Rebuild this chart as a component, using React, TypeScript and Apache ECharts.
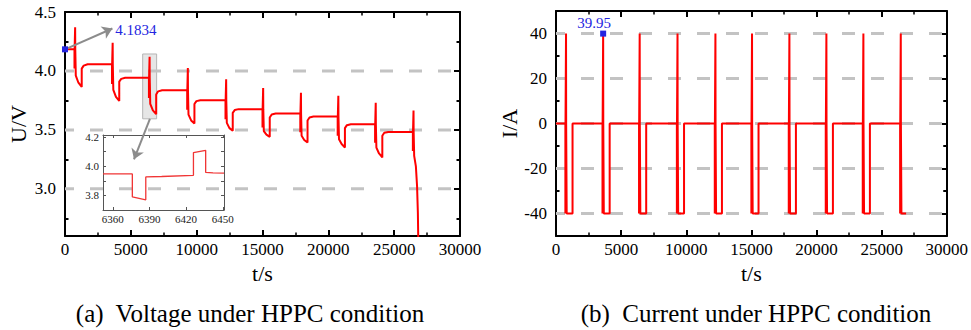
import React, { useEffect, useRef } from "react";
import * as echarts from "echarts";

const FONT = "Liberation Serif";
const BLUE = "#2424e0";
const RED = "#ff0000";

// ---------- axes ----------
const timeMin = 0;
const timeMax = 30000;
const timeStep = 5000;
const voltageMin = 2.6;
const voltageMax = 4.5;
const voltageTicks = [3.0, 3.5, 4.0, 4.5];
const voltageMinorTicks = [2.75, 3.25, 3.75, 4.25];
const voltageGrid = [3.0, 3.5, 4.0];
const currentMin = -50;
const currentMax = 50;
const currentTicks = [-40, -20, 0, 20, 40];
const currentMinorTicks = [-50, -30, -10, 10, 30, 50];
const currentGrid = [-40, -20, 0, 20, 40];
const insetTimeMin = 6352;
const insetTimeMax = 6451;
const insetTimeTicks = [6360, 6390, 6420, 6450];
const insetVoltageMin = 3.7;
const insetVoltageMax = 4.215;
const insetVoltageTicks = [3.8, 4.0, 4.2];
const insetVoltageAllTicks = [3.8, 3.9, 4.0, 4.1, 4.2];

// ---------- HPPC protocol (s after each pulse start) ----------
const dischargePulseEnd = 10;
const chargePulseStart = 50;
const chargePulseEnd = 60;
const stepStart = 100;
const stepMid = 300;
const stepEnd = 550;
const relaxMid = 700;
const relaxEnd = 1000;

// ---------- values ----------
const pulseStart = [720, 3570, 6375, 9280, 12190, 15000, 17870, 20710, 23550, 26420];
const restLevel = [4.1834, 4.057, 3.943, 3.836, 3.752, 3.676, 3.639, 3.613, 3.548, 3.483];
const pulseDip = [4.02, 3.89, 3.77, 3.67, 3.59, 3.52, 3.48, 3.45, 3.39, 3.32];
const chargePeak = [4.37, 4.24, 4.12, 4.025, 3.93, 3.855, 3.815, 3.79, 3.73, 3.665];
const stepStartV = [3.96, 3.84, 3.72, 3.63, 3.56, 3.49, 3.45, 3.42, 3.35];
const stepMidV = [3.9, 3.78, 3.665, 3.58, 3.515, 3.46, 3.415, 3.38, 3.3];
const stepEndV = [3.864, 3.746, 3.633, 3.554, 3.492, 3.441, 3.393, 3.351, 3.266];
const relaxJumpV = [4.02, 3.91, 3.8, 3.72, 3.645, 3.605, 3.58, 3.515, 3.45];
const relaxMidV = [4.045, 3.933, 3.827, 3.744, 3.668, 3.631, 3.605, 3.54, 3.476];
const finalStepTime = [26520, 26650, 26740, 26800, 26840];
const finalStepV = [3.28, 3.19, 3.02, 2.8, 2.5];

const chargeCurrent = 39.95;
const dischargeCurrent = -40;
const restCurrent = 0;

const insetTime = [6352, 6376, 6376, 6387, 6387, 6400, 6426, 6426, 6436, 6436, 6442, 6451];
const insetVoltage = [3.948, 3.948, 3.79, 3.77, 3.927, 3.93, 3.938, 4.094, 4.11, 3.958, 3.955, 3.953];

// ---------- build series data ----------
const voltageData: [number, number][] = [[timeMin, restLevel[0]]];
pulseStart.forEach((p, k) => {
  const o = restLevel[k];
  voltageData.push(
    [p, o],
    [p, pulseDip[k]],
    [p + dischargePulseEnd, pulseDip[k]],
    [p + dischargePulseEnd, o],
    [p + chargePulseStart, o],
    [p + chargePulseStart, chargePeak[k]],
    [p + chargePulseEnd, chargePeak[k]],
    [p + chargePulseEnd, o],
    [p + stepStart, o]
  );
  if (k < stepEndV.length) {
    voltageData.push(
      [p + stepStart, stepStartV[k]],
      [p + stepMid, stepMidV[k]],
      [p + stepEnd, stepEndV[k]],
      [p + stepEnd, relaxJumpV[k]],
      [p + relaxMid, relaxMidV[k]],
      [p + relaxEnd, restLevel[k + 1]]
    );
  } else {
    finalStepTime.forEach((t, i) => voltageData.push([t, finalStepV[i]]));
  }
});

const currentData: [number, number][] = [[timeMin, restCurrent]];
pulseStart.forEach((p, k) => {
  const last = k === pulseStart.length - 1;
  const end = last ? finalStepTime[finalStepTime.length - 1] + 40 : p + stepEnd;
  currentData.push(
    [p, restCurrent],
    [p, dischargeCurrent],
    [p + dischargePulseEnd, dischargeCurrent],
    [p + dischargePulseEnd, restCurrent],
    [p + chargePulseStart, restCurrent],
    [p + chargePulseStart, chargeCurrent],
    [p + chargePulseEnd, chargeCurrent],
    [p + chargePulseEnd, restCurrent],
    [p + stepStart, restCurrent],
    [p + stepStart, dischargeCurrent],
    [end, dischargeCurrent]
  );
  if (!last) currentData.push([end, restCurrent]);
});

const insetData = insetTime.map((t, i) => [t, insetVoltage[i]]);

// ---------- axis helpers ----------
const axisLineStyle = { color: "#000", width: 2 };
const plain = (v: number) => String(v);
const labelFont = { fontFamily: FONT, fontSize: 17, color: "#000" };
const nameFont = { fontFamily: FONT, fontSize: 22, color: "#000" };

function timeAxis(gridIndex: number, position: string, labels: boolean) {
  return {
    type: "value",
    gridIndex,
    position,
    min: timeMin,
    max: timeMax,
    interval: timeStep,
    axisLine: { show: true, onZero: false, lineStyle: axisLineStyle },
    axisTick: { show: true, inside: true, length: 6, lineStyle: { color: "#000", width: 2 } },
    minorTick: { show: true, splitNumber: 2, length: 3.5, lineStyle: { color: "#000", width: 1.5 } },
    axisLabel: {
      show: labels,
      formatter: plain,
      ...labelFont,
      margin: 5,
      showMinLabel: true,
      showMaxLabel: true,
    },
    splitLine: { show: false },
    name: labels ? "t/s" : "",
    nameLocation: "middle",
    nameGap: 14,
    nameTextStyle: { ...nameFont, verticalAlign: "top" },
  };
}

function valueAxis(opts: {
  gridIndex: number;
  position: string;
  min: number;
  max: number;
  ticks: number[];
  labels?: number[];
  line: boolean;
  tickLen: number;
  formatter?: (v: number) => string;
  name?: string;
  nameGap?: number;
}) {
  return {
    type: "value",
    gridIndex: opts.gridIndex,
    position: opts.position,
    min: opts.min,
    max: opts.max,
    axisLine: { show: opts.line, onZero: false, lineStyle: axisLineStyle },
    axisTick: {
      show: true,
      inside: true,
      length: opts.tickLen,
      customValues: opts.ticks,
      lineStyle: { color: "#000", width: 2 },
    },
    axisLabel: opts.labels
      ? {
          show: true,
          customValues: opts.labels,
          formatter: opts.formatter || plain,
          ...labelFont,
          margin: 9,
        }
      : { show: false },
    splitLine: { show: false },
    name: opts.name || "",
    nameLocation: "middle",
    nameGap: opts.nameGap || 0,
    nameTextStyle: nameFont,
  };
}

const insetAxisLine = { color: "#555", width: 1 };
const insetLabel = { fontFamily: FONT, fontSize: 11, color: "#222" };

function gridSeries(xIdx: number, yIdx: number, values: number[]) {
  return values.map((v) => ({
    type: "line",
    xAxisIndex: xIdx,
    yAxisIndex: yIdx,
    data: [
      [timeMin, v],
      [timeMax, v],
    ],
    symbol: "none",
    silent: true,
    z: 1,
    lineStyle: { color: "#c3c3c3", width: 3, type: [13, 16], dashOffset: 4 },
  }));
}

const option = {
  animation: false,
  backgroundColor: "#fff",
  textStyle: { fontFamily: FONT },
  grid: [
    { left: 65, top: 12, width: 395, height: 224 },
    { left: 103, top: 135, width: 121, height: 75 },
    { left: 556, top: 11, width: 396, height: 225 },
  ],
  xAxis: [
    timeAxis(0, "bottom", true),
    timeAxis(0, "top", false),
    {
      type: "value",
      gridIndex: 1,
      position: "bottom",
      min: insetTimeMin,
      max: insetTimeMax,
      axisLine: { show: true, onZero: false, lineStyle: insetAxisLine },
      axisTick: { show: true, inside: true, length: 3, customValues: insetTimeTicks, lineStyle: insetAxisLine },
      axisLabel: { show: true, customValues: insetTimeTicks, formatter: plain, ...insetLabel, margin: 3 },
      splitLine: { show: false },
    },
    {
      type: "value",
      gridIndex: 1,
      position: "top",
      min: insetTimeMin,
      max: insetTimeMax,
      axisLine: { show: true, onZero: false, lineStyle: insetAxisLine },
      axisTick: { show: true, inside: true, length: 3, customValues: insetTimeTicks, lineStyle: insetAxisLine },
      axisLabel: { show: false },
      splitLine: { show: false },
    },
    timeAxis(2, "bottom", true),
    timeAxis(2, "top", false),
  ],
  yAxis: [
    valueAxis({
      gridIndex: 0,
      position: "left",
      min: voltageMin,
      max: voltageMax,
      ticks: voltageTicks,
      labels: voltageTicks,
      line: true,
      tickLen: 6,
      formatter: (v: number) => v.toFixed(1),
      name: "U/V",
      nameGap: 36,
    }),
    valueAxis({ gridIndex: 0, position: "left", min: voltageMin, max: voltageMax, ticks: voltageMinorTicks, line: false, tickLen: 3.5 }),
    valueAxis({ gridIndex: 0, position: "right", min: voltageMin, max: voltageMax, ticks: voltageTicks, line: true, tickLen: 6 }),
    valueAxis({ gridIndex: 0, position: "right", min: voltageMin, max: voltageMax, ticks: voltageMinorTicks, line: false, tickLen: 3.5 }),
    {
      type: "value",
      gridIndex: 1,
      position: "left",
      min: insetVoltageMin,
      max: insetVoltageMax,
      axisLine: { show: true, onZero: false, lineStyle: insetAxisLine },
      axisTick: { show: true, inside: true, length: 3, customValues: insetVoltageAllTicks, lineStyle: insetAxisLine },
      axisLabel: {
        show: true,
        customValues: insetVoltageTicks,
        formatter: (v: number) => v.toFixed(1),
        ...insetLabel,
        margin: 4,
      },
      splitLine: { show: false },
    },
    {
      type: "value",
      gridIndex: 1,
      position: "right",
      min: insetVoltageMin,
      max: insetVoltageMax,
      axisLine: { show: true, onZero: false, lineStyle: insetAxisLine },
      axisTick: { show: true, inside: true, length: 3, customValues: insetVoltageAllTicks, lineStyle: insetAxisLine },
      axisLabel: { show: false },
      splitLine: { show: false },
    },
    valueAxis({
      gridIndex: 2,
      position: "left",
      min: currentMin,
      max: currentMax,
      ticks: currentTicks,
      labels: currentTicks,
      line: true,
      tickLen: 6,
      name: "I/A",
      nameGap: 30,
    }),
    valueAxis({ gridIndex: 2, position: "left", min: currentMin, max: currentMax, ticks: currentMinorTicks, line: false, tickLen: 3.5 }),
    valueAxis({ gridIndex: 2, position: "right", min: currentMin, max: currentMax, ticks: currentTicks, line: true, tickLen: 6 }),
    valueAxis({ gridIndex: 2, position: "right", min: currentMin, max: currentMax, ticks: currentMinorTicks, line: false, tickLen: 3.5 }),
  ],
  series: [
    ...gridSeries(0, 0, voltageGrid),
    ...gridSeries(4, 6, currentGrid),
    {
      type: "line",
      name: "voltage",
      xAxisIndex: 0,
      yAxisIndex: 0,
      data: voltageData,
      symbol: "none",
      z: 3,
      lineStyle: { color: RED, width: 2 },
      itemStyle: { color: RED },
      markArea: {
        silent: true,
        itemStyle: { color: "rgba(210,210,210,0.55)", borderColor: "#b5b5b5", borderWidth: 1 },
        data: [[{ coord: [5900, 4.144] }, { coord: [6960, 3.594] }]],
      },
      markLine: {
        silent: true,
        symbol: ["none", "arrow"],
        symbolSize: 10,
        label: { show: false },
        lineStyle: { color: "#8c8c8c", width: 2, type: "solid" },
        data: [
          [{ coord: [timeMin, restLevel[0]] }, { coord: [3600, 4.36] }],
          [{ coord: [6450, 3.594] }, { coord: [5240, 3.25] }],
        ],
      },
      markPoint: {
        silent: true,
        data: [
          {
            coord: [timeMin, restLevel[0]],
            symbol: "rect",
            symbolSize: 6,
            itemStyle: { color: BLUE },
            label: { show: false },
          },
          {
            coord: [3700, 4.345],
            symbol: "rect",
            symbolSize: 1,
            itemStyle: { color: "rgba(0,0,0,0)" },
            label: {
              show: true,
              position: "right",
              distance: 1,
              formatter: String(restLevel[0]),
              color: BLUE,
              fontFamily: FONT,
              fontSize: 15,
            },
          },
        ],
      },
    },
    {
      type: "line",
      name: "inset",
      xAxisIndex: 2,
      yAxisIndex: 4,
      data: insetData,
      symbol: "none",
      z: 4,
      lineStyle: { color: "#f03535", width: 1.3 },
    },
    {
      type: "line",
      name: "current",
      xAxisIndex: 4,
      yAxisIndex: 6,
      data: currentData,
      symbol: "none",
      z: 3,
      lineStyle: { color: RED, width: 2 },
      itemStyle: { color: RED },
      markPoint: {
        silent: true,
        data: [
          {
            coord: [pulseStart[1] + chargePulseStart, chargeCurrent],
            symbol: "rect",
            symbolSize: 6,
            itemStyle: { color: BLUE },
            label: {
              show: true,
              position: "top",
              distance: 1,
              offset: [-9, 1],
              formatter: String(chargeCurrent),
              color: BLUE,
              fontFamily: FONT,
              fontSize: 15,
            },
          },
        ],
      },
    },
  ],
  graphic: [
    {
      type: "text",
      style: {
        text: "(a)  Voltage under HPPC condition",
        x: 250,
        y: 313,
        textAlign: "center",
        textVerticalAlign: "middle",
        verticalAlign: "middle",
        font: `25px ${FONT}`,
        fill: "#000",
      },
    },
    {
      type: "text",
      style: {
        text: "(b)  Current under HPPC condition",
        x: 756,
        y: 313,
        textAlign: "center",
        textVerticalAlign: "middle",
        verticalAlign: "middle",
        font: `25px ${FONT}`,
        fill: "#000",
      },
    },
  ],
};

export default function App() {
  const ref = useRef<HTMLDivElement>(null);
  useEffect(() => {
    const chart = echarts.init(ref.current!, null, { renderer: "svg" });
    chart.setOption(option as any);
    return () => chart.dispose();
  }, []);
  return (
    <div
      ref={ref}
      style={{ position: "fixed", left: 0, top: 0, width: 971, height: 330, background: "#fff" }}
    />
  );
}
